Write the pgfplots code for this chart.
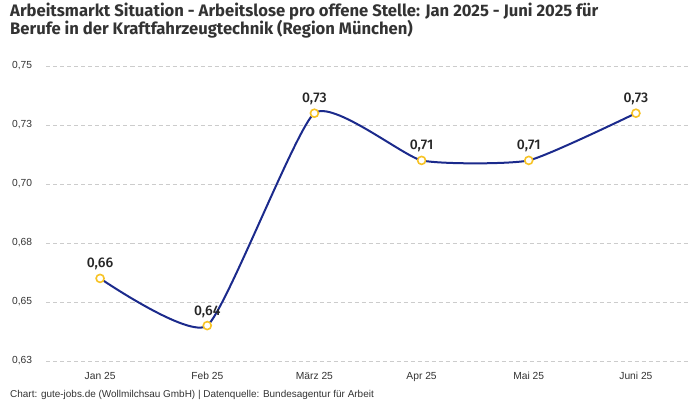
\documentclass[border=0pt]{standalone}
\usepackage{fontspec}
\setmainfont{Liberation Sans}
\newfontfamily\titlefont{Fira Sans}
\newfontfamily\labelfont{Fira Sans Medium}
\usepackage{pgfplots}
\pgfplotsset{compat=1.18}

\definecolor{linecol}{HTML}{1B2A8C}
\definecolor{markcol}{HTML}{F7C325}
\definecolor{gridcol}{HTML}{CCCCCC}
\definecolor{txt}{HTML}{333333}

\begin{document}
\begin{tikzpicture}
\path[use as bounding box] (-46.5bp,-39bp) rectangle (653.5bp,361bp);

% title and source line
\node[anchor=base west, inner sep=0pt, text=txt, font=\titlefont\bfseries\fontsize{16.7}{18}\selectfont]
  at (-36.5bp,344bp) {Arbeitsmarkt Situation - Arbeitslose pro offene Stelle: Jan 2025 - Juni 2025 für};
\node[anchor=base west, inner sep=0pt, text=txt, font=\titlefont\bfseries\fontsize{16.7}{18}\selectfont]
  at (-36.5bp,326.5bp) {Berufe in der Kraftfahrzeugtechnik (Region München)};
\node[anchor=base west, inner sep=0pt, text=txt, font=\fontsize{10}{12}\selectfont]
  at (-36.5bp,-36.3bp) {Chart: gute-jobs.de (Wollmilchsau GmbH) | Datenquelle: Bundesagentur für Arbeit};

\begin{axis}[
    at={(0,0)}, anchor=south west,
    scale only axis,
    width=643bp, height=295bp,
    xmin=-0.5, xmax=5.5,
    ymin=0.625, ymax=0.75,
    clip=false,
    axis line style={draw=none},
    tick style={draw=none},
    ymajorgrids=true,
    grid style={gridcol, line width=0.8bp, dash pattern=on 4bp off 3bp},
    xtick={0,1,2,3,4,5},
    xticklabels={Jan 25, Feb 25, März 25, Apr 25, Mai 25, Juni 25},
    ytick={0.625,0.65,0.675,0.7,0.725,0.75},
    yticklabels={{0,63},{0,65},{0,68},{0,70},{0,73},{0,75}},
    xticklabel style={anchor=base, inner sep=0pt, yshift=-18.3bp, text=txt, font=\fontsize{10.3}{12}\selectfont},
    yticklabel style={anchor=east, inner sep=0pt, xshift=-14.2bp, text=txt, font=\fontsize{10.3}{12}\selectfont},
]

\addplot[
    linecol, line width=2bp, /tikz/smooth, /tikz/tension=0.3,
    mark=*, mark size=4bp,
    mark options={fill=white, draw=markcol, line width=1.6bp},
    point meta=y,
    nodes near coords={\pgfmathprintnumber[fixed,fixed zerofill,precision=2,use comma,assume math mode=true]{\pgfplotspointmeta}},
    every node near coord/.append style={anchor=base, inner sep=0pt, yshift=10.5bp,
        text=black!85, font=\labelfont\fontsize{14}{15}\selectfont},
] coordinates {
    (0, 0.660)
    (1, 0.640)
    (2, 0.730)
    (3, 0.710)
    (4, 0.710)
    (5, 0.730)
};

\end{axis}
\end{tikzpicture}
\end{document}
